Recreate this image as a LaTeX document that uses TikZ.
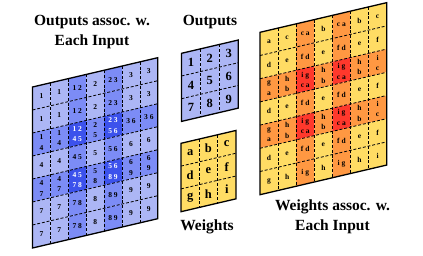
\documentclass[tikz,border=0pt]{standalone}
\usepackage{fontspec}
\setmainfont{Liberation Serif}
\definecolor{cellL}{RGB}{172,182,245}
\definecolor{cellM}{RGB}{124,140,246}
\definecolor{cellD}{RGB}{60,82,236}
\definecolor{cellY}{RGB}{255,220,100}
\definecolor{cellO}{RGB}{255,152,66}
\definecolor{cellR}{RGB}{255,56,44}
\colorlet{inkL}{black}\colorlet{inkM}{black}\colorlet{inkD}{white}
\colorlet{inkY}{black}\colorlet{inkO}{black}\colorlet{inkR}{black}
% cells of one grid: name, cell width, cell height, text style, rows
\newcommand{\cells}[5]{%
  \foreach \gr [count=\gi from 0] in {#5}{
    \foreach \cl/\tx [count=\gj from 0] in \gr{
      \fill[fill=cell\cl] (\gj*#2,\gi*#3) rectangle ++(#2,#3);
      \node[#4,text=ink\cl] (#1-\gi-\gj) at (\gj*#2+#2/2,\gi*#3+#3/2) {\tx};}}}

\begin{document}
\begin{tikzpicture}[x=1pt,y=-1pt,line width=.8pt,
  celltxt/.style={font=\bfseries\fontsize{7.5}{10.5}\selectfont,align=center,inner sep=0pt},
  bigtxt/.style={font=\bfseries\fontsize{12.5}{14}\selectfont,inner sep=0pt},
  gridsep/.style={dash pattern=on 3pt off 1.8pt,line width=.8pt},
  rim/.style={line width=1.3pt},
  head/.style={font=\bfseries\fontsize{15.5}{20}\selectfont,align=center}]
\useasboundingbox (0,0) rectangle (423,255);

% outputs of each input
\begin{scope}[shift={(32.5,87)},yslant=0.234]
\cells{oin}{17.9}{23}{celltxt}{
  {L/1,L/1,M/1~2,L/2,M/2~3,L/3,L/3},
  {L/1,L/1,M/1~2,L/2,M/2~3,L/3,L/3},
  {M/{1\\4},M/{1\\4},D/{1~2\\4~5},M/{2\\5},D/{2~3\\5~6},M/3~6,M/3~6},
  {L/4,L/4,M/4~5,L/5,M/5~6,L/6,L/6},
  {M/{4\\7},M/{4\\7},D/{4~5\\7~8},M/{5\\8},D/{5~6\\8~9},M/{6\\9},M/{6\\9}},
  {L/7,L/7,M/7~8,L/8,M/8~9,L/9,L/9},
  {L/7,L/7,M/7~8,L/8,M/8~9,L/9,L/9}}
\foreach \k in {1,...,6}{\draw[gridsep] (\k*17.9,0) -- (\k*17.9,161); \draw[gridsep] (0,\k*23) -- (125.3,\k*23);}
\draw[rim] (0,0) rectangle (125.3,161);
\end{scope}

% outputs
\begin{scope}[shift={(181.5,53.3)},yslant=0.234]
\cells{out}{18.9}{22.7}{bigtxt}{{L/1,L/2,L/3},{L/4,L/5,L/6},{L/7,L/8,L/9}}
\foreach \k in {1,2}{\draw[gridsep] (\k*18.9,0) -- (\k*18.9,68.1); \draw[gridsep] (0,\k*22.7) -- (56.7,\k*22.7);}
\draw[rim] (0,0) rectangle (56.7,68.1);
\end{scope}

% weights
\begin{scope}[shift={(181,143.3)},yslant=0.234]
\cells{wgt}{18.3}{22.8}{bigtxt}{{Y/a,Y/b,Y/c},{Y/d,Y/e,Y/f},{Y/g,Y/h,Y/i}}
\foreach \k in {1,2}{\draw[gridsep] (\k*18.3,0) -- (\k*18.3,68.4); \draw[gridsep] (0,\k*22.8) -- (54.9,\k*22.8);}
\draw[rim] (0,0) rectangle (54.9,68.4);
\end{scope}

% weights of each input
\begin{scope}[shift={(260,32.3)},yslant=0.234]
\cells{win}{18.1}{23.2}{celltxt}{
  {Y/a,Y/c,O/c~a,Y/b,O/c~a,Y/b,Y/c},
  {Y/d,Y/e,O/f~d,Y/e,O/f~d,Y/e,Y/f},
  {O/{g\\a},O/{h\\b},R/{i~g\\c~a},O/{h\\b},R/{i~g\\c~a},O/{h\\b},O/{i\\c}},
  {Y/d,Y/e,O/f~d,Y/e,O/f~d,Y/e,Y/f},
  {O/{g\\a},O/{h\\b},R/{i~g\\c~a},O/{h\\b},R/{i~g\\c~a},O/{h\\b},O/{i\\c}},
  {Y/d,Y/e,O/f~d,Y/e,O/f~d,Y/e,Y/f},
  {Y/g,Y/h,O/i~g,Y/h,O/i~g,Y/h,Y/i}}
\foreach \k in {1,...,6}{\draw[gridsep] (\k*18.1,0) -- (\k*18.1,162.4); \draw[gridsep] (0,\k*23.2) -- (126.7,\k*23.2);}
\draw[rim] (0,0) rectangle (126.7,162.4);
\end{scope}

\node[head] (ttlOin) at (92,32) {Outputs assoc. w.\\Each Input};
\node[head] (ttlOut) at (210,22) {Outputs};
\node[head] (ttlWgt) at (207,227) {Weights};
\node[head] (ttlWin) at (332.5,216.5) {Weights assoc. w.\\Each Input};
\end{tikzpicture}
\end{document}
